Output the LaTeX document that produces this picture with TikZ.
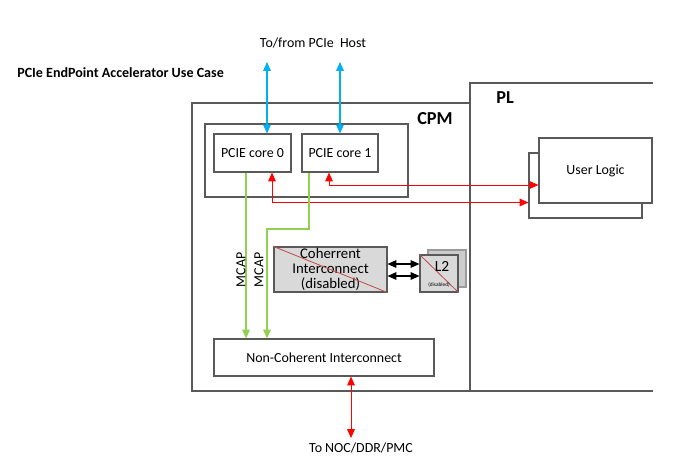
\documentclass[tikz,border=0pt]{standalone}
\usepackage{fontspec}
\setmainfont{Carlito}
\usetikzlibrary{positioning, shapes, arrows.meta, calc}
\definecolor{myblue}{RGB}{0,176,240}
\definecolor{myred}{RGB}{255,0,0}
\definecolor{mygreen}{RGB}{146,208,80}
\definecolor{mygray}{RGB}{89,89,89}
\definecolor{myfill}{RGB}{217,217,217}
\definecolor{mystrike}{RGB}{192,80,77}
\tikzset{
  region/.style={draw=mygray, line width=0.9pt, inner sep=0},
  corebox/.style={draw=mygray, line width=0.8pt, fill=white, inner sep=0,
    font=\fontsize{9.9}{12}\selectfont},
  greybox/.style={draw=mygray, line width=0.8pt, fill=myfill, inner sep=0,
    align=center, font=\fontsize{10.5}{10.8}\selectfont},
  noborder/.style={draw=none, inner sep=0, font=\fontsize{9.9}{12}\selectfont},
  bigtitle/.style={draw=none, inner sep=0, font=\fontsize{13}{15}\selectfont\bfseries},
  bluearrow/.style={<->, line width=0.8pt, color=myblue},
  redarrow/.style={<->, line width=0.6pt, color=myred},
  greenarrow/.style={->, line width=0.8pt, color=mygreen},
  strike/.style={line width=0.6pt, color=mystrike}
}

\begin{document}
\begin{tikzpicture}[>={Triangle[length=2.2mm,width=1.9mm]}]

\useasboundingbox (0,0) rectangle (16.9,-11.55);

% title and outer regions
\node [noborder, anchor=west, font=\fontsize{10}{12}\selectfont\bfseries] (title) at (0.425,-1.825) {PCIe EndPoint Accelerator Use Case};
\node [noborder] (host) at (7.825,-1.075) {To/from PCIe~~Host};

\node [region, minimum width=6.95cm, minimum height=7.2cm] (cpm) at (8.275,-6.175) {};
\draw [mygray, line width=0.9pt] (16.325,-2.075) -- (11.75,-2.075) -- (11.75,-9.775) -- (16.325,-9.775);
\node [bigtitle] (cpmlabel) at (10.875,-2.975) {CPM};
\node [bigtitle] (pllabel) at (12.625,-2.45) {PL};

% pcie cores
\node [region, line width=0.8pt, minimum width=5.075cm, minimum height=1.825cm] (pcie) at (7.6625,-4.0125) {};
\node [corebox, minimum width=1.925cm, minimum height=0.95cm] (core0) at (6.3125,-3.825) {PCIE core 0};
\node [corebox, minimum width=1.9cm, minimum height=0.95cm] (core1) at (8.5,-3.825) {PCIE core 1};

\coordinate (h0) at (6.675,-1.55);
\coordinate (h1) at (8.5,-1.55);
\draw [bluearrow] (h0) -- (h0 |- core0.north);
\draw [bluearrow] (h1) -- (h1 |- core1.north);

% user logic
\node [corebox, minimum width=2.825cm, minimum height=1.625cm] (ulback) at (14.6375,-4.6375) {};
\node [corebox, minimum width=2.825cm, minimum height=1.625cm] (ul) at (14.8875,-4.2625) {User Logic};

\coordinate (r1) at (8.225,-4.625);
\coordinate (r0) at (6.8,-5.0625);
\draw [redarrow] (r1 |- core1.south) -- (r1) -- (r1 -| ul.west);
\draw [redarrow] (r0 |- core0.south) -- (r0) -- (r0 -| ulback.west);

% coherent side (disabled)
\node [greybox, minimum width=2.825cm, minimum height=1.125cm] (coh) at (8.2625,-6.7375) {Coherrent\\Interconnect\\(disabled)};
\draw [strike] (coh.north west) -- (coh.south east);

\node [greybox, fill=myfill!85!gray, draw=mygray!60, minimum width=0.95cm, minimum height=0.925cm] (l2back) at (11.175,-6.7125) {};
\node [greybox, minimum width=0.95cm, minimum height=0.925cm] (l2) at (10.975,-6.8375) {};
\draw [strike] (l2.north west) -- (l2.south east);
\node [noborder, font=\fontsize{11}{12}\selectfont] (l2label) at (11.05,-6.65) {L2};
\node [noborder, font=\fontsize{3.8}{4}\selectfont] (l2dis) at (10.975,-7.125) {(disabled)};

\coordinate (k0) at (0,-6.6);
\coordinate (k1) at (0,-6.9);
\draw [<->, line width=0.8pt] (coh.east |- k0) -- (l2.west |- k0);
\draw [<->, line width=0.8pt] (coh.east |- k1) -- (l2.west |- k1);

% non coherent interconnect
\node [corebox, minimum width=5.5cm, minimum height=0.925cm] (nci) at (8.1,-8.9375) {Non-Coherent Interconnect};

\coordinate (g0) at (6.15,-4.3);
\coordinate (g1) at (7.725,-5.725);
\coordinate (g2) at (6.675,-5.725);
\draw [greenarrow] (g0 |- core0.south) -- (g0 |- nci.north);
\draw [greenarrow] (g1 |- core1.south) -- (g1) -- (g2) -- (g2 |- nci.north);
\node [noborder, rotate=90] (mcap0) at (6.025,-6.75) {MCAP};
\node [noborder, rotate=90] (mcap1) at (6.475,-6.75) {MCAP};

\coordinate (noc) at (8.775,-10.95);
\draw [redarrow] (noc |- nci.south) -- (noc);
\node [noborder] (noclabel) at (9.025,-11.2) {To NOC/DDR/PMC};

\end{tikzpicture}
\end{document}
